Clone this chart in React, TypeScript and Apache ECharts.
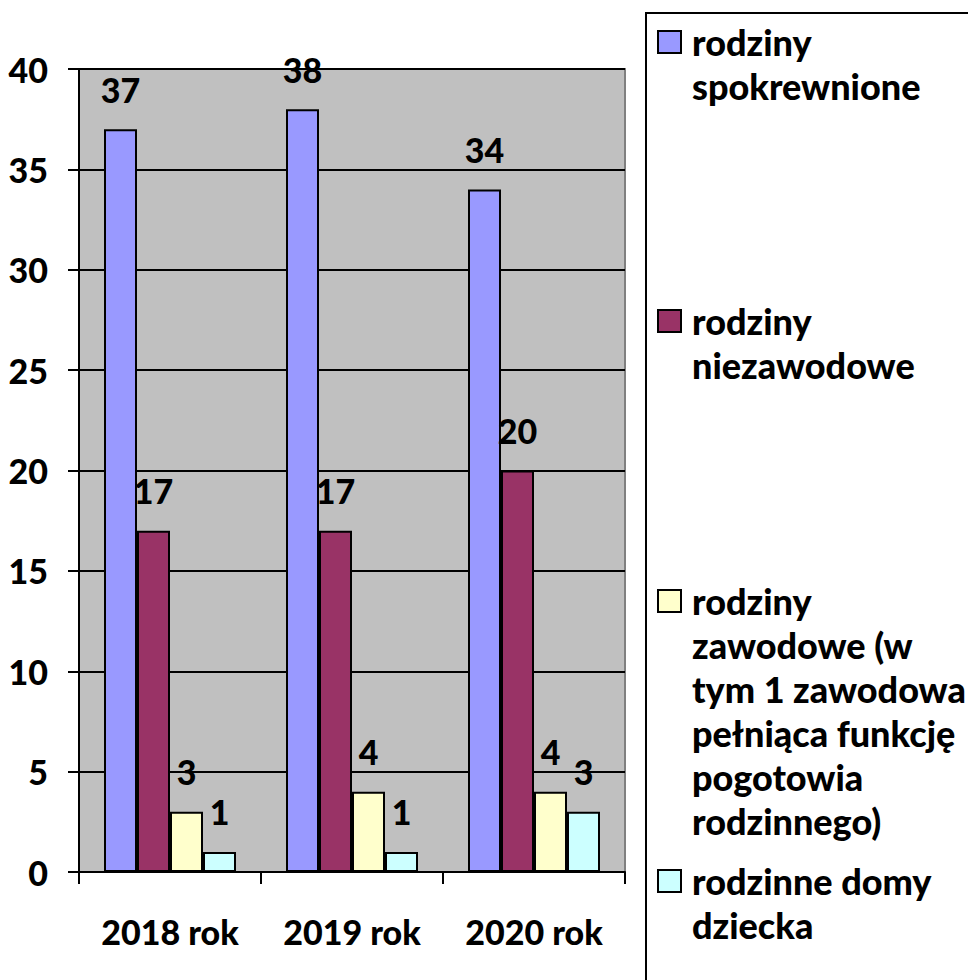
import React, { useEffect, useRef } from "react";
import * as echarts from "echarts";

const categories = ["2018 rok", "2019 rok", "2020 rok"];
const seriesNames = [
  "rodziny spokrewnione",
  "rodziny niezawodowe",
  "rodziny zawodowe (w tym 1 zawodowa pełniąca funkcję pogotowia rodzinnego)",
  "rodzinne domy dziecka",
];
const legendLabels = [
  "rodziny\nspokrewnione",
  "rodziny\nniezawodowe",
  "rodziny\nzawodowe (w\ntym 1 zawodowa\npełniąca funkcję\npogotowia\nrodzinnego)",
  "rodzinne domy\ndziecka",
];
const spokrewnione = [37, 38, 34];
const niezawodowe = [17, 17, 20];
const zawodowe = [3, 4, 4];
const domyDziecka = [1, 1, 3];
const seriesValues = [spokrewnione, niezawodowe, zawodowe, domyDziecka];
const seriesColors = ["#9999FF", "#993366", "#FFFFCC", "#CCFFFF"];
const yTicks = { min: 0, max: 40, interval: 5 };

const FONT = "Lato";
const FS = 34;
const LFS = 36;
const FW = 900;

export default function App() {
  const ref = useRef<HTMLDivElement>(null);
  useEffect(() => {
    if (!ref.current) return;
    const chart = echarts.init(ref.current, null, { renderer: "svg" });
    const legendTops = [31, 310, 590, 870];
    const legendGraphics: any[] = [
      {
        type: "rect",
        shape: { x: 646, y: 13, width: 400, height: 1000 },
        style: { fill: "#FFFFFF", stroke: "#000000", lineWidth: 2 },
        z: 0,
      },
    ];
    legendLabels.forEach((lab, i) => {
      legendGraphics.push({
        type: "rect",
        shape: { x: 658, y: legendTops[i], width: 23, height: 22 },
        style: { fill: seriesColors[i], stroke: "#000000", lineWidth: 2 },
        z: 10,
      });
      legendGraphics.push({
        type: "text",
        x: 692,
        y: legendTops[i] - 11,
        style: {
          text: lab,
          fontFamily: FONT,
          fontSize: LFS,
          fontWeight: FW,
          lineHeight: 44,
          fill: "#000000",
          verticalAlign: "top",
        },
        z: 10,
      });
    });
    chart.setOption({
      animation: false,
      backgroundColor: "#FFFFFF",
      textStyle: { fontFamily: FONT },
      grid: {
        left: 79,
        right: 343,
        top: 69,
        bottom: 108,
        show: true,
        backgroundColor: "#C0C0C0",
        borderColor: "#808080",
        borderWidth: 2,
        containLabel: false,
      },
      xAxis: {
        type: "category",
        data: categories,
        axisLine: { show: true, lineStyle: { color: "#000000", width: 2 } },
        axisTick: { show: true, length: 12, lineStyle: { color: "#000000", width: 2 } },
        axisLabel: {
          color: "#000000",
          fontSize: FS,
          fontWeight: FW,
          fontFamily: FONT,
          lineHeight: FS,
          margin: 42,
        },
        splitLine: { show: false },
      },
      yAxis: {
        type: "value",
        min: yTicks.min,
        max: yTicks.max,
        interval: yTicks.interval,
        axisLine: { show: true, lineStyle: { color: "#000000", width: 2 } },
        axisTick: { show: true, length: 11, lineStyle: { color: "#000000", width: 2 } },
        axisLabel: {
          color: "#000000",
          fontSize: FS,
          fontWeight: FW,
          fontFamily: FONT,
          margin: 31,
        },
        splitLine: { show: true, lineStyle: { color: "#000000", width: 2 } },
      },
      series: seriesNames.map((name, i) => ({
        name,
        type: "bar",
        data: seriesValues[i],
        barWidth: 33,
        barGap: "0%",
        itemStyle: { color: seriesColors[i], borderColor: "#000000", borderWidth: 2 },
        label: {
          show: true,
          position: "top",
          distance: 23,
          color: "#000000",
          fontSize: FS,
          fontWeight: FW,
          fontFamily: FONT,
          lineHeight: FS,
        },
      })),
      graphic: legendGraphics,
    });
    return () => chart.dispose();
  }, []);
  return (
    <div
      ref={ref}
      style={{ position: "absolute", left: 0, top: 0, width: 968, height: 980 }}
    />
  );
}
